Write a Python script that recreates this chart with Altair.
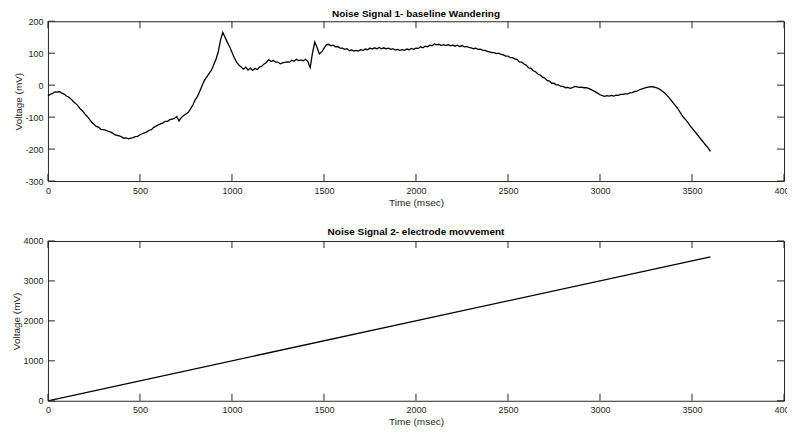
import altair as alt
import pandas as pd

# ---- data (Noise Signal 1, one value every 12.5 ms) ----
volt1 = [
    -33, -29, -26, -21, -22, -20, -25, -28,
    -34, -37, -43, -51, -57, -64, -74, -80,
    -90, -97, -106, -116, -122, -129, -131, -138,
    -139, -141, -144, -146, -149, -155, -157, -159,
    -162, -166, -165, -168, -166, -164, -161, -160,
    -155, -152, -149, -146, -141, -139, -132, -128,
    -124, -121, -118, -113, -113, -108, -106, -104,
    -98, -112, -101, -95, -90, -85, -74, -62,
    -46, -35, -19, -2, 15, 25, 36, 46,
    62, 80, 103, 140, 165, 150, 134, 120,
    103, 86, 72, 63, 57, 50, 56, 47,
    53, 46, 52, 49, 57, 60, 66, 71,
    80, 74, 77, 72, 72, 67, 70, 71,
    73, 72, 78, 75, 81, 77, 79, 76,
    81, 74, 55, 100, 135, 118, 98, 104,
    115, 126, 128, 123, 125, 120, 121, 116,
    116, 112, 114, 108, 110, 107, 109, 107,
    111, 109, 113, 111, 116, 113, 117, 114,
    118, 114, 117, 114, 116, 112, 114, 110,
    112, 109, 111, 109, 113, 111, 115, 112,
    116, 115, 120, 117, 122, 120, 125, 123,
    129, 126, 128, 124, 127, 124, 127, 123,
    125, 122, 125, 121, 124, 120, 121, 118,
    117, 114, 116, 112, 113, 109, 109, 106,
    104, 102, 102, 99, 100, 96, 95, 91,
    91, 86, 86, 82, 80, 73, 72, 66,
    62, 54, 53, 45, 42, 35, 32, 25,
    22, 15, 13, 6, 6, 1, 1, -4,
    -4, -8, -7, -10, -8, -4, -5, -7,
    -6, -8, -8, -10, -13, -17, -21, -25,
    -30, -33, -35, -33, -34, -32, -34, -31,
    -32, -29, -29, -27, -27, -24, -23, -20,
    -19, -15, -12, -10, -8, -6, -5, -5,
    -7, -9, -13, -18, -24, -31, -39, -48,
    -57, -66, -75, -87, -98, -106, -115, -125,
    -134, -143, -152, -161, -170, -179, -188, -196,
    -207,
]
time1 = [12.5 * i for i in range(len(volt1))]

# ---- Noise Signal 2 ----
time2 = [0, 3600]
volt2 = [0, 3600]

x_ticks = [0, 500, 1000, 1500, 2000, 2500, 3000, 3500, 4000]
y_ticks1 = [-300, -200, -100, 0, 100, 200]
y_ticks2 = [0, 1000, 2000, 3000, 4000]

W, H = 737, 160
TICK = 7
FONT = "Liberation Sans"
AX = "#262626"
LBL = "replace(datum.label, '\u2212', '-')"


def panel(df, yticks, ydom, title, toff):
    xs = alt.Scale(domain=[0, 4000], nice=False, zero=False)
    ys = alt.Scale(domain=ydom, nice=False, zero=False)
    axx = alt.Axis(values=x_ticks, ticks=False, tickSize=0, grid=False,
                   domain=False, labelPadding=5, titlePadding=2,
                   format="d", labelExpr=LBL, labelFlush=False,
                   labelOverlap=False, title="Time (msec)")
    axy = alt.Axis(values=yticks, ticks=False, tickSize=0, grid=False,
                   domain=False, labelPadding=5, titlePadding=1,
                   format="d", labelExpr=LBL, labelFlush=False,
                   labelOverlap=False, title="Voltage (mV)")
    line = alt.Chart(df).mark_line(color="black", strokeWidth=1.3).encode(
        x=alt.X("t:Q", scale=xs, axis=axx),
        y=alt.Y("v:Q", scale=ys, axis=axy),
    )
    xt = pd.DataFrame({"t": x_ticks})
    yt = pd.DataFrame({"v": yticks})
    tb = alt.Chart(xt).mark_rule(color=AX, strokeWidth=1).encode(
        x=alt.X("t:Q", scale=xs, axis=axx), y=alt.value(H - TICK), y2=alt.value(H))
    tt = alt.Chart(xt).mark_rule(color=AX, strokeWidth=1).encode(
        x=alt.X("t:Q", scale=xs, axis=axx), y=alt.value(0), y2=alt.value(TICK))
    tl = alt.Chart(yt).mark_rule(color=AX, strokeWidth=1).encode(
        y=alt.Y("v:Q", scale=ys, axis=axy), x=alt.value(0), x2=alt.value(TICK))
    tr = alt.Chart(yt).mark_rule(color=AX, strokeWidth=1).encode(
        y=alt.Y("v:Q", scale=ys, axis=axy), x=alt.value(W - TICK), x2=alt.value(W))
    return alt.layer(line, tb, tt, tl, tr).properties(
        width=W, height=H,
        title=alt.Title(title, fontSize=10, fontWeight="bold", color="black",
                        font=FONT, frame="group", anchor="middle", offset=toff),
    )


df1 = pd.DataFrame({"t": time1, "v": volt1})
df2 = pd.DataFrame({"t": time2, "v": volt2})

chart = alt.vconcat(
    panel(df1, y_ticks1, [-300, 200], "Noise Signal 1- baseline Wandering", -2),
    panel(df2, y_ticks2, [0, 4000], "Noise Signal 2- electrode movvement", 0),
    spacing=18,
).properties(
    padding={"left": 3, "top": 0, "right": -8, "bottom": 0},
    background="white",
).configure_view(
    stroke=AX, strokeWidth=1
).configure_axis(
    labelFont=FONT, titleFont=FONT, labelFontSize=9, titleFontSize=10,
    labelColor=AX, titleColor=AX, titleFontWeight="normal",
)

chart.save("out.html", embed_options={"renderer": "svg", "actions": False})
